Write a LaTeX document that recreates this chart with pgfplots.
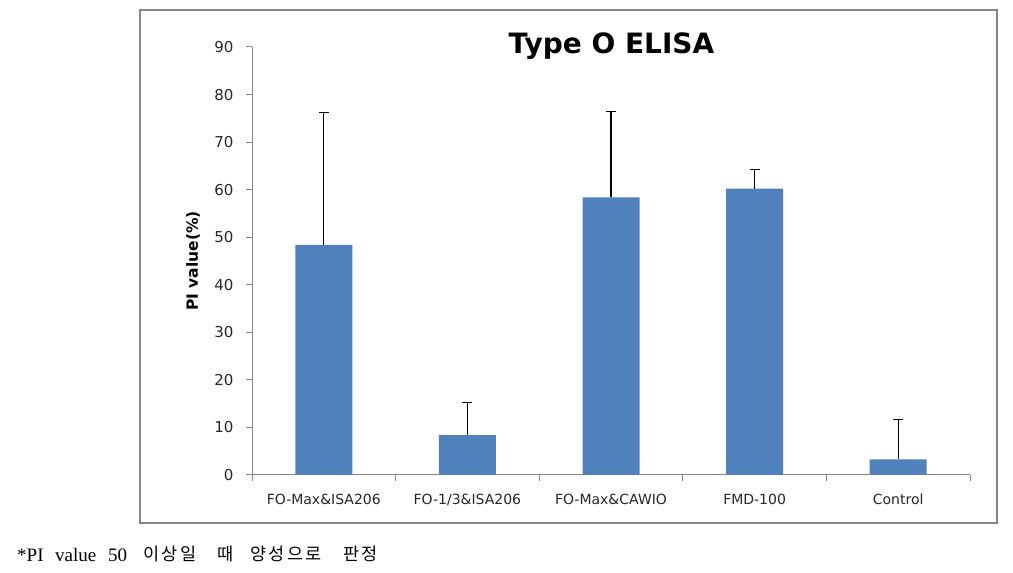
\documentclass[border=0pt]{standalone}
\usepackage{fontspec}
\usepackage{pgfplots}
\pgfplotsset{compat=1.18}
\setmainfont{DejaVu Sans}
\newfontfamily\tickfont{DejaVu Sans}
\newfontfamily\seriffont{Liberation Serif}
\newfontfamily\cjk{Noto Sans CJK KR}
\definecolor{barblue}{HTML}{4F81BD}
\definecolor{axgray}{HTML}{868686}
\newcommand{\ks}{\kern2.4pt}
\begin{document}
\begin{tikzpicture}[x=1pt,y=1pt]
\useasboundingbox (0,0) rectangle (1013,573);
\draw[axgray, line width=1.3pt] (140,563) rectangle (997,50);
\begin{axis}[
  at={(252pt,98pt)}, anchor=south west,
  scale only axis, width=718pt, height=428pt,
  xmin=0.5, xmax=5.5, ymin=0, ymax=90,
  axis x line*=bottom, axis y line*=left,
  axis line style={axgray, line width=1pt},
  ytick={0,10,...,90},
  xtick={1,2,3,4,5},
  xticklabels={FO-Max\&ISA206,FO-1/3\&ISA206,FO-Max\&CAWIO,FMD-100,Control},
  minor xtick={0.5,1.5,2.5,3.5,4.5,5.5},
  tick align=outside,
  major tick length=6pt, minor tick length=6pt,
  x tick style={draw=none},
  minor x tick style={draw=axgray, line width=1pt},
  y tick style={axgray, line width=1pt},
  /pgf/number format/assume math mode=true,
  yticklabel style={font=\fontsize{15}{18}\selectfont\tickfont, text=black!85, anchor=east, xshift=-9pt},
  xticklabel style={font=\fontsize{14}{17}\selectfont\tickfont, text=black!85, anchor=base, yshift=-24pt},
  clip=false,
]
\addplot[ybar, bar width=57pt, fill=barblue, draw=none,
  error bars/.cd, y dir=plus, y explicit,
  error bar style={black, line width=1.3pt},
  error mark options={rotate=90, mark size=5pt, black, line width=1.3pt}]
  coordinates {
  (1,48.4) +- (0,27.8)
  (2,8.4) +- (0,6.9)
  (3,58.4) +- (0,18.1)
  (4,60.2) +- (0,4.1)
  (5,3.3) +- (0,8.3)
  };
\end{axis}
\node[rotate=90, anchor=center, inner sep=0pt, font=\fontsize{15.5}{18}\selectfont\bfseries\tickfont] at (193,312) {PI value(\%)};
\node[anchor=base, inner sep=0pt, font=\fontsize{28}{32}\selectfont\bfseries\tickfont] at (611.5,519) {Type O ELISA};
\node[anchor=base west, inner sep=0pt, font=\fontsize{19}{22}\selectfont\seriffont] at (17,11) {*PI};
\node[anchor=base west, inner sep=0pt, font=\fontsize{19}{22}\selectfont\seriffont] at (55,11) {value};
\node[anchor=base west, inner sep=0pt, font=\fontsize{19}{22}\selectfont\seriffont] at (108,11) {50};
\node[anchor=base west, inner sep=0pt, font=\fontsize{17.5}{20}\selectfont\cjk] at (143,12) {이\ks 상\ks 일};
\node[anchor=base west, inner sep=0pt, font=\fontsize{17.5}{20}\selectfont\cjk] at (217,12) {때};
\node[anchor=base west, inner sep=0pt, font=\fontsize{17.5}{20}\selectfont\cjk] at (250,12) {양\ks 성\ks 으\ks 로};
\node[anchor=base west, inner sep=0pt, font=\fontsize{17.5}{20}\selectfont\cjk] at (343,12) {판\ks 정};
\end{tikzpicture}
\end{document}
